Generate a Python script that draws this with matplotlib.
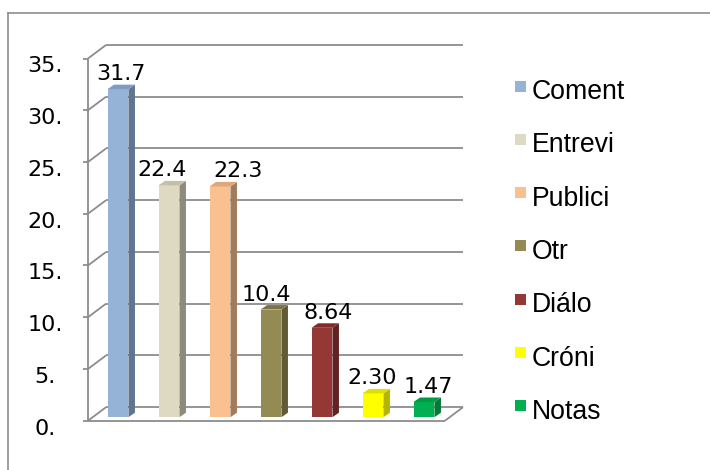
import matplotlib
matplotlib.use("Agg")  # no GUI
import matplotlib.pyplot as plt
from matplotlib.patches import Polygon, Rectangle
from matplotlib.lines import Line2D
from matplotlib.transforms import ScaledTranslation

# data
categories = ["Coment", "Entrevi", "Publici", "Otr", "Diálo", "Cróni", "Notas"]
values = [31.7, 22.4, 22.3, 10.4, 8.64, 2.30, 1.47]
value_labels = ["31.7", "22.4", "22.3", "10.4", "8.64", "2.30", "1.47"]
yticks = [0, 5, 10, 15, 20, 25, 30, 35]
ytick_labels = ["0.", "5.", "10.", "15.", "20.", "25.", "30.", "35."]

front_colors = ["#95B3D7", "#DDD9C3", "#FAC090", "#948A54", "#953735", "#FFFF00", "#00B050"]
side_colors = ["#5F7592", "#8E8B7C", "#A27B5C", "#605A36", "#612322", "#B5B500", "#007A37"]
top_colors = ["#7E9CC2", "#C4C0A8", "#E0A677", "#7D7445", "#7D2C2A", "#DEDE00", "#009944"]
# excel pushed some value labels sideways so they don't collide (pixels)
label_nudge = [0, -10, 15, -8, 3, -4, 1]

plt.rcParams["font.family"] = ["Liberation Sans", "DejaVu Sans"]
LEG_FS = 19.2
# the numbers in the original are drawn wide, DejaVu gets closer to that
NUM_FONT = ["DejaVu Sans"]
NUM_FS = 16
GRID = "#8c8c8c"

W, H = 710, 470
fig = plt.figure(figsize=(W / 100, H / 100), dpi=100)

# fake 3d: pixel offsets of back wall and of bars
wall_dx, wall_dy = 18, 13.5
bar_dx, bar_dy = 4.5, 3.5
depth_dx, depth_dy = 6.5, 4.5
bar_w = 0.41

ax_left, ax_right = 88, 463
ax_top, ax_bottom = 45, 420.7
ax = fig.add_axes([ax_left / W, 1 - ax_bottom / H, (ax_right - ax_left) / W, (ax_bottom - ax_top) / H])
n = len(categories)
ymax = yticks[-1]
px_x = (ax_right - ax_left - wall_dx) / n
px_y = (ax_bottom - ax_top - wall_dy) / ymax
ax.set_xlim(-0.5, n - 0.5 + wall_dx / px_x)
ax.set_ylim(0, ymax + wall_dy / px_y)
ax.axis("off")

wx, wy = wall_dx / px_x, wall_dy / px_y
bx, by = bar_dx / px_x, bar_dy / px_y
dx, dy = depth_dx / px_x, depth_dy / px_y

line_kw = dict(color=GRID, lw=1.3, clip_on=False, solid_capstyle="butt")

# back wall gridlines + left wall diagonals + front axis ticks
for t in yticks:
    ax.plot([-0.5 + wx, n - 0.5 + wx], [t + wy, t + wy], **line_kw)
    ax.plot([-0.5, -0.5 + wx], [t, t + wy], **line_kw)
    ax.plot([-0.5 - 5 / px_x, -0.5], [t, t], **line_kw)
ax.plot([-0.5, -0.5], [0, ymax], **line_kw)
# floor front and right edge
ax.plot([-0.5, n - 0.5], [0, 0], **line_kw)
ax.plot([n - 0.5, n - 0.5 + wx], [0, wy], **line_kw)

# tick labels
tick_tr = ax.transData + ScaledTranslation(-43 / 100, -14 / 100, fig.dpi_scale_trans)
for t, lab in zip(yticks, ytick_labels):
    ax.text(-0.5, t, lab, transform=tick_tr, ha="center", va="baseline",
            fontsize=NUM_FS, family=NUM_FONT, clip_on=False)

# bars
for i, (v, fc, sc, tc, lab) in enumerate(zip(values, front_colors, side_colors, top_colors, value_labels)):
    x0 = i - bar_w / 2 + bx
    x1 = i + bar_w / 2 + bx
    y0 = by
    y1 = v + by
    ax.add_patch(Rectangle((x0, y0), bar_w, v, facecolor=fc, edgecolor="none", clip_on=False, zorder=3))
    ax.add_patch(Polygon([(x1, y0), (x1 + dx, y0 + dy), (x1 + dx, y1 + dy), (x1, y1)],
                         facecolor=sc, edgecolor="none", clip_on=False, zorder=3))
    ax.add_patch(Polygon([(x0, y1), (x1, y1), (x1 + dx, y1 + dy), (x0 + dx, y1 + dy)],
                         facecolor=tc, edgecolor="none", clip_on=False, zorder=3))
    ax.text(i + bx + dx / 2 + label_nudge[i] / px_x, y1 + dy + 4.5 / px_y, lab, ha="center",
            va="baseline", fontsize=NUM_FS, family=NUM_FONT, zorder=4, clip_on=False)

# legend, drawn by hand
leg_x, leg_base, leg_step = 515, 99, 53.3
for i, (name, fc) in enumerate(zip(categories, front_colors)):
    base = leg_base + i * leg_step
    fig.add_artist(Rectangle((leg_x / W, 1 - (base - 7.5) / H), 11 / W, 11 / H,
                             transform=fig.transFigure, facecolor=fc, edgecolor="none"))
    fig.text((leg_x + 17) / W, 1 - base / H, name, ha="left", va="baseline", fontsize=LEG_FS)

# outer frame (left and top only)
fig.add_artist(Line2D([8 / W, 8 / W], [0, 1 - 13 / H], color="#8e8e8e", lw=1.2, transform=fig.transFigure))
fig.add_artist(Line2D([8 / W, 1], [1 - 13 / H, 1 - 13 / H], color="#8e8e8e", lw=1.2, transform=fig.transFigure))

fig.savefig("out.png", dpi=100)
